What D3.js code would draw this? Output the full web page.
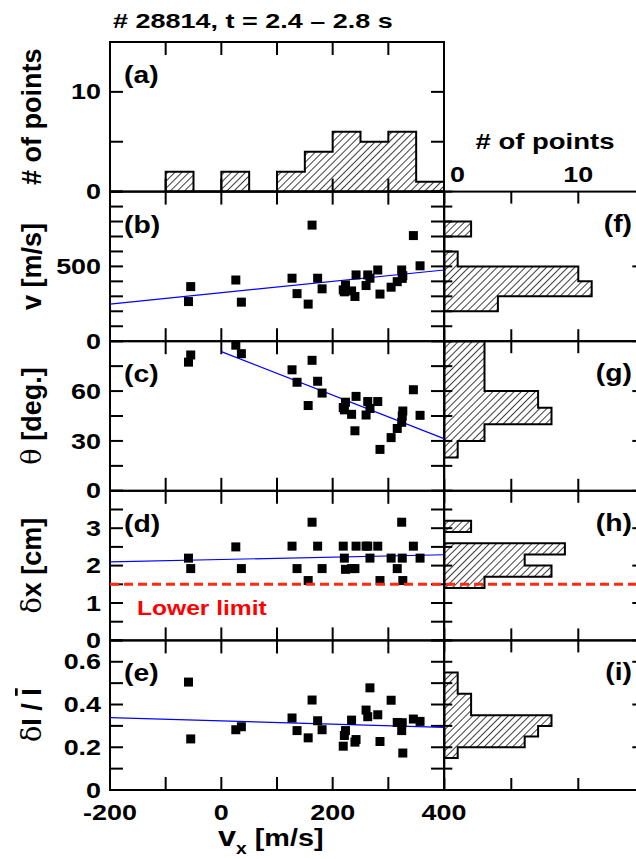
<!DOCTYPE html>
<html>
<head>
<meta charset="utf-8">
<script src="https://d3js.org/d3.v7.min.js"></script>
<style>
  body { margin: 0; background: #fff; }
  text { font-family: "Liberation Sans", Arial, sans-serif; font-weight: bold; fill: #000; }
</style>
</head>
<body>
<div id="chart"></div>
<script>
// Scatter points, one entry per blob (28 blobs)
var vx    = [-59, -55, 26, 36, 127, 136, 156, 163, 173, 181, 219, 221, 223, 234, 240, 242, 260, 263, 267, 281, 285, 305, 316, 324, 325, 326, 345, 357];
var vel   = [265, 365, 409, 261, 421, 318, 248, 776, 421, 350, 343, 330, 376, 336, 299, 443, 372, 443, 421, 476, 315, 361, 398, 476, 420, 438, 706, 504];
var theta = [77.4, 81.7, 87.6, 82.5, 72.8, 65.3, 51.3, 78.5, 65.9, 58.8, 50.1, 48.7, 53.3, 46, 36.1, 56.8, 45.6, 53.7, 49.5, 53.7, 24.9, 32, 37.5, 41.2, 45, 48, 60.8, 45.4];
var dx    = [2.2, 1.92, 2.5, 1.92, 2.52, 1.92, 1.6, 3.16, 2.52, 1.92, 2.52, 2.2, 1.9, 1.92, 1.92, 2.52, 2.52, 2.52, 2.2, 2.52, 1.6, 2.2, 1.92, 3.16, 2.2, 1.6, 2.52, 2.2];
var dI    = [0.505, 0.239, 0.282, 0.296, 0.337, 0.278, 0.244, 0.421, 0.324, 0.282, 0.205, 0.255, 0.278, 0.327, 0.224, 0.236, 0.374, 0.343, 0.478, 0.352, 0.227, 0.42, 0.316, 0.278, 0.315, 0.173, 0.332, 0.321];

// histograms (bin edges + counts)
var vxEdges = [-100, -50, 0, 50, 100, 150, 200, 250, 300, 350, 400];
var vxCounts = [2, 0, 2, 0, 2, 4, 6, 5, 6, 1];
var vEdges = [200, 300, 400, 500, 600, 700, 800];
var vCounts = [4, 11, 10, 1, 0, 2];
var thetaEdges = [20, 30, 40, 50, 60, 70, 80, 90];
var thetaCounts = [1, 3, 8, 7, 3, 3, 3];
var dxEdges = [1.4, 1.7, 2.0, 2.3, 2.6, 2.9, 3.2];
var dxCounts = [3, 8, 6, 9, 0, 2];
var dIEdges = [0.15, 0.2, 0.25, 0.3, 0.35, 0.4, 0.45, 0.5, 0.55];
var dICounts = [1, 6, 7, 8, 2, 2, 1, 1];

// linear fits (end points)
var fitVx = [-200, 400];
var fitV = [248, 476];
var fitThetaVx = [0, 400];
var fitTheta = [83.7, 31.4];
var fitDx = [2.1, 2.29];
var fitDI = [0.339, 0.293];
var lowerLimit = 1.5;

// tick labels
var xTickLabels = [-200, 0, 200, 400];
var hTickLabels = [0, 10];

var width = 636, height = 859;
var svg = d3.select("#chart").append("svg")
    .attr("width", width)
    .attr("height", height);

var defs = svg.append("defs");
defs.append("pattern")
    .attr("id", "hatch")
    .attr("patternUnits", "userSpaceOnUse")
    .attr("width", 5).attr("height", 5)
    .attr("patternTransform", "rotate(45)")
  .append("line")
    .attr("x1", 0).attr("y1", 0).attr("x2", 0).attr("y2", 5)
    .attr("stroke", "#000").attr("stroke-width", 1.5);

var x = d3.scaleLinear().domain([-200, 400]).range([110, 444]);
var xh = d3.scaleLinear().domain([0, 15]).range([444.3, 645.3]);
var top0 = 42, ph = 149.6;

// text helper, the figure's lettering is stretched horizontally
function txt(g, px, py, str, size, sx, anchor) {
  return g.append("text")
    .attr("transform", "translate(" + px + "," + py + ") scale(" + sx + ",1)")
    .attr("text-anchor", anchor || "start")
    .style("font-size", size + "px")
    .text(str);
}

var panels = [
  { dom: [0, 15], step: 5, labels: [0, 10], tag: "(a)", ylab: [["# of points", "bold"]] },
  { dom: [0, 1000], step: 100, labels: [0, 500], tag: "(b)", rtag: "(f)", y: vel,
    fit: [fitVx, fitV], edges: vEdges, counts: vCounts, ylab: [["v [m/s]", "bold"]] },
  { dom: [0, 90], step: 15, labels: [0, 30, 60], tag: "(c)", rtag: "(g)", y: theta,
    fit: [fitThetaVx, fitTheta], edges: thetaEdges, counts: thetaCounts, ylab: [["θ", "normal"], [" [deg.]", "bold"]] },
  { dom: [0, 4], step: 0.5, labels: [0, 1, 2, 3], tag: "(d)", rtag: "(h)", y: dx,
    fit: [fitVx, fitDx], edges: dxEdges, counts: dxCounts, ylab: [["δ", "normal"], ["x [cm]", "bold"]] },
  { dom: [0, 0.7], step: 0.1, labels: [0, 0.2, 0.4, 0.6], tag: "(e)", rtag: "(i)", y: dI,
    fit: [fitVx, fitDI], edges: dIEdges, counts: dICounts, ylab: [["δ", "normal"], ["I / ", "bold"], ["I", "over"]] }
];

var line = d3.line();

panels.forEach(function(p, i) {
  var y0 = top0 + (i + 1) * ph, y1 = top0 + i * ph;
  var y = d3.scaleLinear().domain(p.dom).range([y0, y1]);
  var g = svg.append("g");
  var n = Math.round((p.dom[1] - p.dom[0]) / p.step);
  var yt = d3.range(n + 1).map(function(k) { return p.dom[0] + k * p.step; });
  var xt = d3.range(-200, 401, 100);
  var isLabel = function(v) { return p.labels.some(function(l) { return Math.abs(l - v) < 1e-9; }); };

  // left histogram (panel a)
  if (i === 0) {
    var pts = [[x(vxEdges[0]), y(0)]];
    vxCounts.forEach(function(c, k) {
      pts.push([x(vxEdges[k]), y(c)], [x(vxEdges[k + 1]), y(c)]);
    });
    pts.push([x(vxEdges[vxEdges.length - 1]), y(0)]);
    g.append("path").attr("d", line(pts) + "Z")
      .attr("fill", "url(#hatch)").attr("stroke", "#000").attr("stroke-width", 2);
  }

  // right side histogram
  if (p.edges) {
    var hp = [[xh(0), y(p.edges[0])]];
    p.counts.forEach(function(c, k) {
      hp.push([xh(c), y(p.edges[k])], [xh(c), y(p.edges[k + 1])]);
    });
    hp.push([xh(0), y(p.edges[p.edges.length - 1])]);
    g.append("path").attr("d", line(hp) + "Z")
      .attr("fill", "url(#hatch)").attr("stroke", "#000").attr("stroke-width", 2);

    // right frame + ticks
    g.append("rect").attr("x", xh(0)).attr("y", y1).attr("width", xh(15) - xh(0)).attr("height", y0 - y1)
      .attr("fill", "none").attr("stroke", "#000").attr("stroke-width", 2);
    yt.forEach(function(v) {
      g.append("line").attr("x1", xh(0)).attr("x2", xh(0) + 8).attr("y1", y(v)).attr("y2", y(v))
        .attr("stroke", "#000").attr("stroke-width", 2);
      var len = isLabel(v) ? 13 : 6;
      g.append("line").attr("x1", xh(15)).attr("x2", xh(15) - len).attr("y1", y(v)).attr("y2", y(v))
        .attr("stroke", "#000").attr("stroke-width", 2);
    });
    [0, 5, 10, 15].forEach(function(c) {
      g.append("line").attr("x1", xh(c)).attr("x2", xh(c)).attr("y1", y0).attr("y2", y0 - 12)
        .attr("stroke", "#000").attr("stroke-width", 2);
      g.append("line").attr("x1", xh(c)).attr("x2", xh(c)).attr("y1", y1).attr("y2", y1 + 12)
        .attr("stroke", "#000").attr("stroke-width", 2);
    });
    txt(g, 632, y1 + 40, p.rtag, 24, 1.18, "end");
  }

  // left frame
  g.append("rect").attr("x", x(-200)).attr("y", y1).attr("width", x(400) - x(-200)).attr("height", y0 - y1)
    .attr("fill", "none").attr("stroke", "#000").attr("stroke-width", 2);

  yt.forEach(function(v) {
    g.append("line").attr("x1", x(-200)).attr("x2", x(-200) + 13).attr("y1", y(v)).attr("y2", y(v))
      .attr("stroke", "#000").attr("stroke-width", 2);
    g.append("line").attr("x1", x(400)).attr("x2", x(400) - 13).attr("y1", y(v)).attr("y2", y(v))
      .attr("stroke", "#000").attr("stroke-width", 2);
  });
  xt.forEach(function(v) {
    g.append("line").attr("x1", x(v)).attr("x2", x(v)).attr("y1", y0).attr("y2", y0 - 13)
      .attr("stroke", "#000").attr("stroke-width", 2);
    g.append("line").attr("x1", x(v)).attr("x2", x(v)).attr("y1", y1).attr("y2", y1 + 13)
      .attr("stroke", "#000").attr("stroke-width", 2);
  });

  // y tick labels
  p.labels.forEach(function(v) {
    txt(g, 101, y(v) + 7.6, String(v), 21.5, 1.25, "end");
  });

  // y axis title
  var yl = g.append("text")
    .attr("transform", "translate(41," + ((y0 + y1) / 2) + ") rotate(-90)")
    .attr("text-anchor", "middle")
    .style("font-size", "27px");
  p.ylab.forEach(function(s) {
    var t = yl.append("tspan").text(s[0]);
    if (s[1] === "normal") t.style("font-weight", "normal").style("font-family", "'DejaVu Serif', serif");
    if (s[1] === "over") t.style("text-decoration", "overline");
  });

  txt(g, 124, y1 + 41, p.tag, 24, 1.18, "start");

  // scatter + fit
  if (p.y) {
    g.append("line")
      .attr("x1", x(p.fit[0][0])).attr("y1", y(p.fit[1][0]))
      .attr("x2", x(p.fit[0][1])).attr("y2", y(p.fit[1][1]))
      .attr("stroke", "#0000ff").attr("stroke-width", 1.2);
    g.selectAll("rect.pt")
      .data(p.y)
      .enter()
      .append("rect")
        .attr("class", "pt")
        .attr("x", function(d, k) { return x(vx[k]) - 4.5; })
        .attr("y", function(d) { return y(d) - 4.5; })
        .attr("width", 9).attr("height", 9)
        .attr("fill", "#000");
  }

  // lower limit line in panel d
  if (i === 3) {
    g.append("line")
      .attr("x1", x(-200)).attr("x2", width)
      .attr("y1", y(lowerLimit)).attr("y2", y(lowerLimit))
      .attr("stroke", "#ff2a10").attr("stroke-width", 3)
      .attr("stroke-dasharray", "9,5");
    txt(g, 137, 615, "Lower limit", 20.5, 1.2, "start").style("fill", "#ff0000");
  }

  // x tick labels on bottom panel
  if (i === panels.length - 1) {
    xTickLabels.forEach(function(v) {
      txt(g, x(v), 820, String(v), 21.5, 1.25, "middle");
    });
    var xl = g.append("text")
      .attr("transform", "translate(218,846) scale(1.2,1)");
    xl.append("tspan").style("font-size", "27px").text("v");
    xl.append("tspan").style("font-size", "16px").attr("dy", 8).text("x");
    xl.append("tspan").style("font-size", "24px").attr("dy", -8).text(" [m/s]");
  }
});

// top labels
txt(svg, 113, 28, "# 28814, t = 2.4 – 2.8 s", 20, 1.35, "start");
txt(svg, 545, 149, "# of points", 22, 1.25, "middle");
txt(svg, 450, 182, String(hTickLabels[0]), 21.5, 1.25, "start");
txt(svg, xh(hTickLabels[1]), 182, String(hTickLabels[1]), 21.5, 1.25, "middle");
</script>
</body>
</html>
